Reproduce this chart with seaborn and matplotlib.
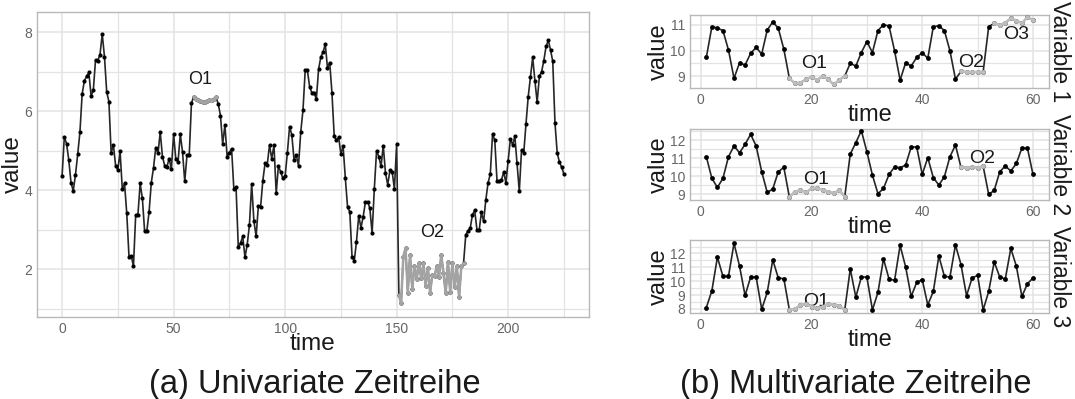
import numpy as np
import pandas as pd
import matplotlib
matplotlib.use("Agg")
import matplotlib.pyplot as plt
import seaborn as sns
from matplotlib.ticker import MultipleLocator

# ---------------- data: univariate series (time 0..225) ----------------
uni_part1 = [4.36, 5.35, 5.18, 4.76, 4.19, 3.98, 4.39, 4.91, 5.47, 6.44,
             6.77, 6.88, 6.98, 6.39, 6.53, 7.30, 7.28, 7.43, 7.95, 7.38,
             6.49, 6.24, 4.93, 5.15, 4.62, 4.51, 4.98, 4.03, 4.17, 3.41,
             2.32, 2.34, 2.07, 3.38, 3.38, 4.17, 3.79, 2.96, 2.97, 3.45,
             4.19, 4.57, 5.08, 4.93, 5.47, 4.85, 4.62, 4.59, 4.80, 4.53,
             5.42, 4.78, 4.72, 5.42, 4.96, 4.22, 4.89, 4.88, 6.20]
uni_o1 = [6.37, 6.30, 6.27, 6.25, 6.24, 6.22, 6.25, 6.27, 6.28, 6.30, 6.35]
uni_part2 = [6.19, 5.89, 5.17, 5.65, 4.85, 4.95, 5.05, 4.04, 4.07, 2.56,
             2.66, 2.83, 2.30, 2.62, 3.12, 4.16, 3.22, 2.83, 3.60, 3.57,
             4.24, 4.68, 4.65, 5.14, 4.80, 5.14, 3.92, 4.62, 4.46, 4.30,
             4.35, 4.94, 5.61, 5.40, 4.77, 4.89, 4.62, 5.47, 6.02, 7.03,
             7.03, 6.61, 6.47, 6.47, 6.30, 7.06, 7.37, 7.49, 7.70, 7.09,
             7.23, 6.46, 5.38, 5.26, 5.34, 4.92, 5.11, 4.30, 3.57, 3.45,
             2.32, 2.21, 2.70, 3.35, 3.05, 3.33, 3.70, 3.71, 3.54, 2.91,
             4.04, 5.00, 4.85, 4.60, 5.13, 4.43, 4.14, 4.50, 4.47, 4.03,
             5.16]
uni_o2 = [1.35, 1.14, 2.32, 2.53, 1.41, 2.36, 1.49, 2.07, 1.76, 2.15,
          1.77, 2.15, 1.58, 2.03, 1.41, 1.86, 1.83, 2.07, 1.81, 2.36,
          1.90, 1.39, 2.19, 1.43, 2.15, 1.54, 2.07, 1.29, 2.07, 2.15]
uni_part3 = [2.87, 2.97, 3.04, 3.38, 3.49, 3.00, 2.98, 3.44, 3.21, 3.76,
             4.19, 4.41, 5.42, 5.27, 4.24, 4.22, 4.26, 4.46, 4.18, 4.75,
             5.29, 5.15, 5.36, 4.68, 3.97, 5.02, 4.95, 5.68, 6.37, 6.86,
             7.36, 6.77, 6.23, 6.88, 7.00, 7.28, 7.64, 7.79, 7.55, 7.26,
             5.70, 4.94, 4.71, 4.58, 4.41]
uni_outliers = [(59, 69), (151, 180)]
uni_labels = [("O1", 62, 6.80), ("O2", 166, 2.92)]

# ---------------- data: multivariate series (time 1..60) ----------------
var1 = [9.73, 10.93, 10.88, 10.78, 10.02, 8.91, 9.52, 9.43, 9.89, 10.12,
        9.86, 10.80, 11.12, 10.87, 10.05,
        8.91, 8.71, 8.74, 8.87, 8.97, 8.84, 9.00, 8.87, 8.67, 8.84, 9.00,
        9.50, 9.39, 9.92, 10.35, 9.92, 10.78, 11.01, 10.96, 9.99, 8.84,
        9.52, 9.39, 9.73, 9.92, 9.69, 10.93, 10.97, 10.78, 9.99, 8.88,
        9.18, 9.16, 9.15, 9.16, 9.16,
        10.93,
        11.07, 11.00, 11.09, 11.26, 11.17, 11.07, 11.30, 11.20]
var2 = [11.09, 9.89, 9.39, 9.89, 11.09, 11.69, 11.31, 11.78, 12.33, 11.69,
        10.26, 9.11, 9.30, 10.26, 10.50,
        8.85, 9.15, 9.24, 9.11, 9.33, 9.37, 9.24, 9.15, 9.06, 9.24, 8.87,
        11.24, 11.87, 12.54, 11.37, 10.07, 9.04, 9.33, 10.11, 10.52, 10.48,
        10.63, 11.63, 11.63, 10.11, 11.04, 9.93, 9.52, 9.98, 11.09, 11.74,
        10.50, 10.48, 10.54, 10.48, 10.57,
        9.00, 9.22, 10.26, 10.57, 10.30, 10.72, 11.57, 11.57, 10.11]
var3 = [8.10, 9.31, 11.73, 10.35, 10.35, 12.73, 11.08, 8.97, 10.30, 10.30,
        7.98, 9.19, 11.54, 10.23, 10.18,
        7.93, 8.00, 8.29, 8.34, 8.17, 8.05, 8.17, 8.36, 8.29, 8.24, 7.93,
        10.88, 8.85, 10.30, 10.30, 7.93, 9.19, 11.61, 10.16, 10.06, 12.58,
        11.03, 8.90, 9.92, 10.11, 8.29, 9.26, 11.81, 10.35, 10.30, 12.61,
        11.20, 8.95, 10.23, 10.42, 7.93, 9.26, 11.39, 10.30, 10.16, 12.36,
        11.08, 8.90, 9.82, 10.23]
var1_outliers = [(16, 26), (47, 51), (53, 60)]
var2_outliers = [(16, 26), (47, 51)]
var3_outliers = [(16, 26)]
var1_labels = [("O1", 20.5, 9.50), ("O2", 48.8, 9.52), ("O3", 57.0, 10.62)]
var2_labels = [("O1", 20.8, 9.80), ("O2", 50.8, 11.0)]
var3_labels = [("O1", 20.8, 8.55)]
strip_names = ["Variable 1", "Variable 2", "Variable 3"]
captions = ["(a) Univariate Zeitreihe", "(b) Multivariate Zeitreihe"]

# ---------------- style ----------------
sns.set_theme(style="white")
plt.rcParams['font.family'] = ['Liberation Sans', 'DejaVu Sans']

W, H = 1075, 399
fig = plt.figure(figsize=(W / 100, H / 100), dpi=100)

GRID = '#E3E3E3'
BORDER = '#B8B8B8'
TICKC = '#666666'
TXT = '#1a1a1a'


def add_ax(x0, y0, x1, y1):
    return fig.add_axes([x0 / W, 1 - y1 / H, (x1 - x0) / W, (y1 - y0) / H])


def style(ax, xmaj, xmin, ymaj, ymin, xlim, ylim):
    ax.set_xlim(xlim)
    ax.set_ylim(ylim)
    ax.xaxis.set_major_locator(MultipleLocator(xmaj))
    ax.xaxis.set_minor_locator(MultipleLocator(xmin))
    ax.yaxis.set_major_locator(MultipleLocator(ymaj))
    ax.yaxis.set_minor_locator(MultipleLocator(ymin))
    ax.grid(True, which='major', color=GRID, lw=1.1)
    ax.grid(True, which='minor', color=GRID, lw=0.9)
    ax.set_axisbelow(True)
    for s in ax.spines.values():
        s.set_color(BORDER)
        s.set_linewidth(1.0)
    ax.tick_params(which='major', length=2.5, width=0.8, color=BORDER,
                   labelcolor=TICKC, labelsize=10, pad=1)
    ax.tick_params(which='minor', length=0)


def draw(ax, t, v, outliers, gray, lw, ms):
    df = pd.DataFrame({'time': t, 'value': v})
    sns.lineplot(data=df, x='time', y='value', ax=ax, color='#262626',
                 lw=lw, estimator=None, sort=False)
    sns.scatterplot(data=df, x='time', y='value', ax=ax, color='black',
                    s=ms, linewidth=0, zorder=3)
    for a, b in outliers:
        sub = df[(df.time >= a) & (df.time <= b)]
        sns.lineplot(data=sub, x='time', y='value', ax=ax, color=gray,
                     lw=lw * 1.5, estimator=None, sort=False, zorder=4)
        sns.scatterplot(data=sub, x='time', y='value', ax=ax, color=gray,
                        s=ms, linewidth=0, zorder=5)


# ---------------- left panel ----------------
uni = uni_part1 + uni_o1 + uni_part2 + uni_o2 + uni_part3
t_uni = np.arange(len(uni))
axL = add_ax(37, 12, 589, 317)
draw(axL, t_uni, uni, uni_outliers, '#A3A3A3', 1.2, 9)
style(axL, 50, 25, 2, 1, (-11.25, 236.25), (0.79, 8.51))
axL.set_xlabel("time", fontsize=17.5, labelpad=-2, color=TXT)
axL.set_ylabel("value", fontsize=17.5, labelpad=0, color=TXT)
for name, tx, ty in uni_labels:
    axL.text(tx, ty, name, fontsize=13, ha='center', va='center', color=TXT)

# ---------------- right panels ----------------
t_mv = np.arange(1, 61)
panels = [
    (var1, var1_outliers, var1_labels, (15, 88.3), (8.52, 11.39), 1),
    (var2, var2_outliers, var2_labels, (129, 200), (8.69, 12.63), 1),
    (var3, var3_outliers, var3_labels, (240, 312.7), (7.73, 12.97), 1),
]
for i, (vals, outs, labs, (y0, y1), ylim, ystep) in enumerate(panels):
    ax = add_ax(690, y0, 1049.3, y1)
    draw(ax, t_mv, vals, outs, '#BDBDBD', 1.2, 12)
    style(ax, 20, 10, ystep, 0.5, (-1.95, 62.95), ylim)
    ax.set_xlabel("time", fontsize=17, labelpad=-2, color=TXT)
    ax.set_ylabel("value", fontsize=17, labelpad=0, color=TXT)
    for name, tx, ty in labs:
        ax.text(tx, ty, name, fontsize=14, ha='center', va='center', color=TXT)
    ax.text(1.028, 0.5, strip_names[i], transform=ax.transAxes, rotation=-90,
            fontsize=16.5, ha='center', va='center', color=TXT)

# ---------------- captions ----------------
fig.text(315 / W, 1 - 384 / H, captions[0], fontsize=23.5, ha='center', va='center', color=TXT)
fig.text(856 / W, 1 - 384 / H, captions[1], fontsize=23.5, ha='center', va='center', color=TXT)

fig.savefig("out.png", dpi=100)
